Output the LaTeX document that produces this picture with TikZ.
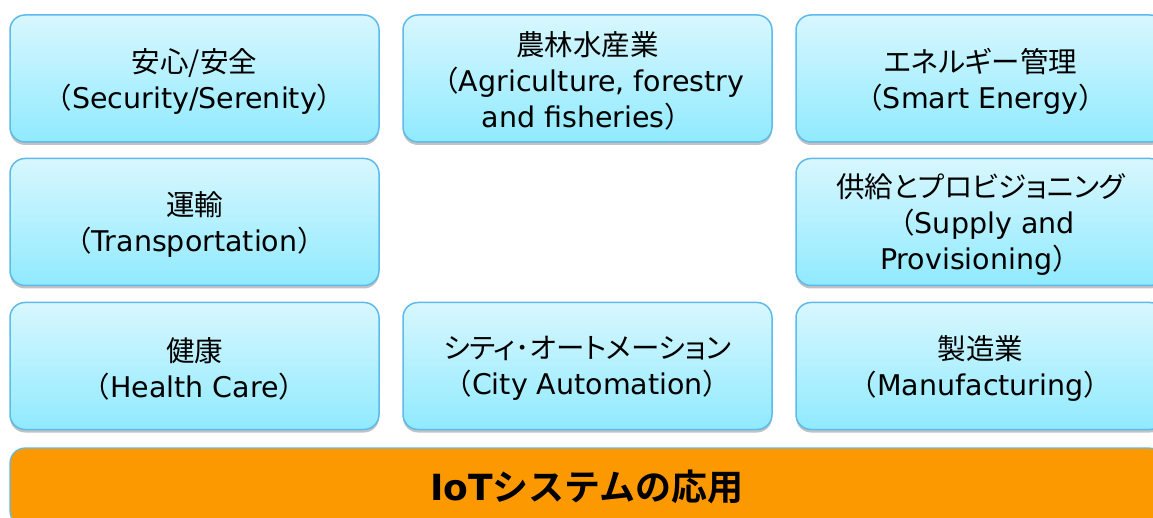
\documentclass[tikz,border=0pt]{standalone}
\usepackage{fontspec}
\setmainfont{DejaVu Sans}
\newfontfamily\jpf{Noto Sans CJK JP}[BoldFont={Noto Sans CJK JP Bold}]
\newfontfamily\jp{Noto Sans CJK JP}[RawFeature=+palt]
\usetikzlibrary{shadows}
\definecolor{boxtop}{RGB}{216,247,254}
\definecolor{boxbot}{RGB}{144,234,254}
\definecolor{boxline}{RGB}{92,186,236}
\definecolor{barfill}{RGB}{253,153,0}
\newcommand{\jlp}{{\jpf （}}
\newcommand{\jrp}{{\jpf ）}}
\tikzset{
 app/.style={draw=boxline, line width=1.5pt, rounded corners=15pt,
   top color=boxtop, bottom color=boxbot,
   minimum width=369pt, minimum height=127pt, inner sep=0pt,
   drop shadow={shadow xshift=0pt, shadow yshift=-3pt, opacity=0.4, fill=black!60}},
 apptext/.style={align=center, inner sep=0pt, yshift=-2.5pt,
   font=\fontsize{28.5}{36}\selectfont},
 bar/.style={draw=boxline, line width=1.2pt, rounded corners=15pt, fill=barfill,
   minimum width=1154pt, minimum height=78pt, inner sep=0pt,
   font=\fontsize{36}{40}\selectfont\bfseries},
}
\begin{document}
\begin{tikzpicture}[x=1pt,y=1pt]
\useasboundingbox (0,0) rectangle (1153,517);
\clip (0,0) rectangle (1153,517);
\node[app] (sec) at (194.5,438.5) {};
\node[app] (agr) at (587.5,438.5) {};
\node[app] (ene) at (980.5,438.5) {};
\node[app] (tra) at (194.5,295) {};
\node[app] (sup) at (980.5,295) {};
\node[app] (hea) at (194.5,151) {};
\node[app] (cit) at (587.5,151) {};
\node[app] (man) at (980.5,151) {};
\node[apptext] (sec-t) at (sec.center) {{\jpf 安心/安全}\\\jlp Security/Serenity\jrp};
\node[apptext] (agr-t) at (agr.center) {{\jpf 農林水産業}\\\jlp Agriculture, forestry\\and fisheries\jrp};
\node[apptext] (ene-t) at (ene.center) {{\jp エネルギー管理}\\\jlp Smart Energy\jrp};
\node[apptext] (tra-t) at (tra.center) {{\jpf 運輸}\\\jlp Transportation\jrp};
\node[apptext] (sup-t) at (sup.center) {{\jp 供給とプロビジョニング}\\\jlp Supply and\\Provisioning\jrp};
\node[apptext] (hea-t) at (hea.center) {{\jpf 健康}\\\jlp Health Care\jrp};
\node[apptext] (cit-t) at (cit.center) {{\jp シティ･オートメーション}\\\jlp City Automation\jrp};
\node[apptext] (man-t) at (man.center) {{\jpf 製造業}\\\jlp Manufacturing\jrp};
\node[bar] (iot) at (587,30) {IoT{\jpf システムの応用}};
\end{tikzpicture}
\end{document}
